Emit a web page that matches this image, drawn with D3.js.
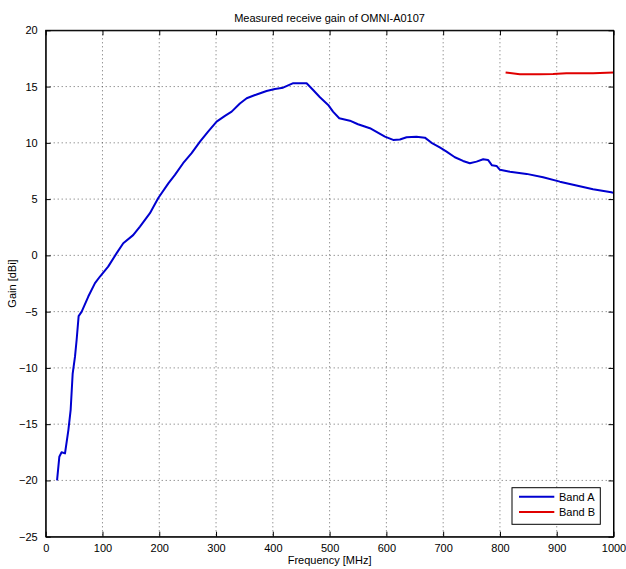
<!DOCTYPE html>
<html><head><meta charset="utf-8">
<script src="https://cdn.jsdelivr.net/npm/d3@7"></script>
<style>body{margin:0;background:#fff}text{font-family:"Liberation Sans",Arial,sans-serif}</style>
</head><body>
<svg id="c" width="626" height="569"></svg>
<script>
const title = "Measured receive gain of OMNI-A0107";
const xLabel = "Frequency [MHz]";
const yLabel = "Gain [dBi]";
const xTicks = [0,100,200,300,400,500,600,700,800,900,1000];
const yTicks = [-25,-20,-15,-10,-5,0,5,10,15,20];
const seriesNames = ["Band A","Band B"];
const seriesColors = ["#0000d0","#e00000"];
const bandAFreq = [20,24,28,34,40,44,47.5,51.6,54.5,58,63.4,75,86.8,95.6,110,125,136.6,154,166,183.6,198,216,227.6,242,257,271.7,286,301,315.7,327.5,342,354,371.5,389,403.7,418,436,459.5,471,483,497.5,506,517,535.7,550,571,597.4,612,623.8,635.6,653,667.8,679.6,694,706,720.6,735,747,758.8,770.5,779,786,794,800,817.6,847,876,905.5,934.8,964,996,1000];
const bandAGain = [-20,-17.9,-17.5,-17.6,-15.5,-13.7,-10.5,-9.0,-7.5,-5.4,-5.0,-3.66,-2.47,-1.88,-1.0,0.2,1.08,1.8,2.56,3.75,5.08,6.4,7.15,8.19,9.08,10.1,11.0,11.88,12.39,12.77,13.5,13.96,14.3,14.6,14.79,14.9,15.3,15.3,14.7,14.05,13.37,12.77,12.18,11.97,11.65,11.3,10.55,10.26,10.3,10.5,10.55,10.46,10.0,9.6,9.22,8.72,8.39,8.19,8.33,8.54,8.48,8.0,7.95,7.6,7.44,7.24,6.94,6.55,6.2,5.88,5.61,5.55];
const bandBFreq = [810,835,870,893.7,917,964,1000];
const bandBGain = [16.25,16.1,16.1,16.12,16.18,16.18,16.25];

const svg = d3.select("#c");
const L=45.7,R=613.5,T=30.3,B=536.7;
const x = d3.scaleLinear().domain([0,1000]).range([L,R]);
const y = d3.scaleLinear().domain([-25,20]).range([B,T]);
const g = svg.append("g");
// grid
g.selectAll(".gx").data(xTicks.slice(1,-1)).enter().append("line")
 .attr("x1",d=>x(d)).attr("x2",d=>x(d)).attr("y1",T).attr("y2",B)
 .attr("stroke","#444").attr("stroke-width",0.8).attr("stroke-dasharray","1,3");
g.selectAll(".gy").data(yTicks.slice(1,-1)).enter().append("line")
 .attr("y1",d=>y(d)).attr("y2",d=>y(d)).attr("x1",L).attr("x2",R)
 .attr("stroke","#444").attr("stroke-width",0.8).attr("stroke-dasharray","1,3");
// axes
const fs = "11px";
const fmt = d3.format("d");
const ax = g.append("g").attr("transform",`translate(0,${B})`)
 .call(d3.axisBottom(x).tickValues(xTicks).tickFormat(fmt).tickSizeInner(-5).tickSizeOuter(0).tickPadding(8));
const ay = g.append("g").attr("transform",`translate(${L},0)`)
 .call(d3.axisLeft(y).tickValues(yTicks).tickFormat(fmt).tickSizeInner(-5).tickSizeOuter(0).tickPadding(8));
const at = g.append("g").attr("transform",`translate(0,${T})`)
 .call(d3.axisTop(x).tickValues(xTicks).tickSizeInner(-5).tickSizeOuter(0).tickFormat(""));
const ar = g.append("g").attr("transform",`translate(${R},0)`)
 .call(d3.axisRight(y).tickValues(yTicks).tickSizeInner(-5).tickSizeOuter(0).tickFormat(""));
[ax,ay,at,ar].forEach(a=>{a.selectAll("path").attr("stroke","#000");a.selectAll("line").attr("stroke","#000");
 a.selectAll("text").attr("fill","#000").style("font-size",fs).style("font-family","Liberation Sans, Arial, sans-serif");});
svg.append("rect").attr("x",L).attr("y",T).attr("width",R-L).attr("height",B-T)
 .attr("fill","none").attr("stroke","#000").attr("stroke-width",1);
// lines
const line = d3.line().x(d=>x(d[0])).y(d=>y(d[1]));
const dataA = bandAFreq.map((f,i)=>[f,bandAGain[i]]);
const dataB = bandBFreq.map((f,i)=>[f,bandBGain[i]]);
[dataA,dataB].forEach((d,i)=>{
 g.append("path").datum(d).attr("d",line).attr("fill","none")
  .attr("stroke",seriesColors[i]).attr("stroke-width",2).attr("stroke-linejoin","round");
});
// legend
const lg = svg.append("g");
lg.append("rect").attr("x",512).attr("y",487.7).attr("width",88.3).attr("height",36.6)
 .attr("fill","#fff").attr("stroke","#000").attr("stroke-width",1);
seriesNames.forEach((n,i)=>{
 const yy = 496.7 + i*15.3;
 lg.append("line").attr("x1",519).attr("x2",554.3).attr("y1",yy).attr("y2",yy)
  .attr("stroke",seriesColors[i]).attr("stroke-width",2);
 lg.append("text").attr("x",559).attr("y",yy+4).text(n).style("font-size",fs).attr("fill","#000");
});
// labels
svg.append("text").attr("x",(L+R)/2).attr("y",22).attr("text-anchor","middle").text(title).style("font-size",fs);
svg.append("text").attr("x",(L+R)/2).attr("y",564).attr("text-anchor","middle").text(xLabel).style("font-size",fs);
svg.append("text").attr("transform",`translate(16,${(T+B)/2}) rotate(-90)`).attr("text-anchor","middle").text(yLabel).style("font-size",fs);
</script>
</body></html>
